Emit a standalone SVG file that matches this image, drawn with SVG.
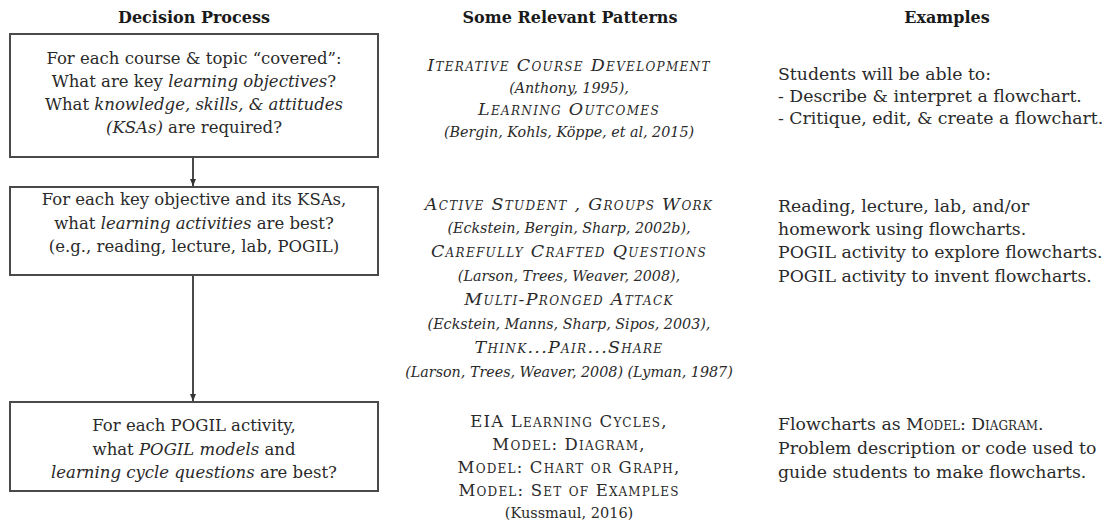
<svg xmlns="http://www.w3.org/2000/svg" width="1112" height="525" viewBox="0 0 1112 525">
<style>
text{font-family:"DejaVu Serif","Liberation Serif",serif;fill:#2a2a2a;}
.hd{font-weight:bold;font-size:16px;text-anchor:middle;fill:#1a1a1a;}
.bx{font-size:16.5px;text-anchor:middle;}
.box{fill:#fff;stroke:#4a4a4a;stroke-width:2;}
.pat{font-size:17.5px;letter-spacing:1.3px;font-style:italic;font-variant:small-caps;text-anchor:middle;}
.pat2{font-size:16.5px;letter-spacing:1.2px;font-variant:small-caps;text-anchor:middle;}
.cit{font-size:14.3px;font-style:italic;text-anchor:middle;}
.cit2{font-size:14.5px;text-anchor:middle;}
.ex{font-size:17.3px;}
.sc{font-variant:small-caps;}
.it{font-style:italic;}
.conn{stroke:#4a4a4a;stroke-width:2;fill:none;}
</style>
<defs>
<marker id="ah" markerUnits="userSpaceOnUse" markerWidth="8" markerHeight="8" refX="7" refY="4" orient="auto">
<path d="M0,1 L7,4 L0,7 Z" fill="#333"/>
</marker>
</defs>
<rect width="1112" height="525" fill="#fff"/>
<g id="headers">
<text class="hd" x="194" y="23">Decision Process</text>
<text class="hd" x="570" y="23">Some Relevant Patterns</text>
<text class="hd" x="947" y="23">Examples</text>
</g>
<g id="connectors">
<line class="conn" x1="193" y1="157" x2="193" y2="186" marker-end="url(#ah)"/>
<line class="conn" x1="193" y1="275" x2="193" y2="401" marker-end="url(#ah)"/>
</g>
<g id="node1">
<rect class="box" x="10" y="34" width="368" height="123"/>
<text class="bx" x="194" y="64">For each course &amp; topic “covered”:</text>
<text class="bx" x="194" y="87">What are key <tspan class="it">learning objectives</tspan>?</text>
<text class="bx" x="194" y="110">What <tspan class="it">knowledge, skills, &amp; attitudes</tspan></text>
<text class="bx" x="194" y="133"><tspan class="it">(KSAs)</tspan> are required?</text>
</g>
<g id="node2">
<rect class="box" x="10" y="187" width="368" height="88"/>
<text class="bx" x="194" y="205">For each key objective and its KSAs,</text>
<text class="bx" x="194" y="229">what <tspan class="it">learning activities</tspan> are best?</text>
<text class="bx" x="194" y="252">(e.g., reading, lecture, lab, POGIL)</text>
</g>
<g id="node3">
<rect class="box" x="10" y="402" width="368" height="89"/>
<text class="bx" x="194" y="431">For each POGIL activity,</text>
<text class="bx" x="194" y="455">what <tspan class="it">POGIL models</tspan> and</text>
<text class="bx" x="194" y="478"><tspan class="it">learning cycle questions</tspan> are best?</text>
</g>
<g id="patterns1">
<text class="pat" x="569" y="71">Iterative Course Development</text>
<text class="cit" x="569" y="93">(Anthony, 1995),</text>
<text class="pat" x="569" y="115">Learning Outcomes</text>
<text class="cit" x="569" y="137">(Bergin, Kohls, Köppe, et al, 2015)</text>
</g>
<g id="patterns2">
<text class="pat" x="569" y="210">Active Student , Groups Work</text>
<text class="cit" x="569" y="233">(Eckstein, Bergin, Sharp, 2002b),</text>
<text class="pat" x="569" y="257">Carefully Crafted Questions</text>
<text class="cit" x="569" y="281">(Larson, Trees, Weaver, 2008),</text>
<text class="pat" x="569" y="305">Multi-Pronged Attack</text>
<text class="cit" x="569" y="329">(Eckstein, Manns, Sharp, Sipos, 2003),</text>
<text class="pat" x="569" y="353">Think...Pair...Share</text>
<text class="cit" x="569" y="377">(Larson, Trees, Weaver, 2008) (Lyman, 1987)</text>
</g>
<g id="patterns3">
<text class="pat2" x="569" y="427">EIA Learning Cycles,</text>
<text class="pat2" x="569" y="450">Model: Diagram,</text>
<text class="pat2" x="569" y="473">Model: Chart or Graph,</text>
<text class="pat2" x="569" y="496">Model: Set of Examples</text>
<text class="cit2" x="569" y="518">(Kussmaul, 2016)</text>
</g>
<g id="examples1">
<text class="ex" x="778" y="80">Students will be able to:</text>
<text class="ex" x="778" y="102">- Describe &amp; interpret a flowchart.</text>
<text class="ex" x="778" y="124">- Critique, edit, &amp; create a flowchart.</text>
</g>
<g id="examples2">
<text class="ex" x="778" y="212">Reading, lecture, lab, and/or</text>
<text class="ex" x="778" y="235">homework using flowcharts.</text>
<text class="ex" x="778" y="258">POGIL activity to explore flowcharts.</text>
<text class="ex" x="778" y="282">POGIL activity to invent flowcharts.</text>
</g>
<g id="examples3">
<text class="ex" x="778" y="430">Flowcharts as <tspan class="sc">Model: Diagram</tspan>.</text>
<text class="ex" x="778" y="454">Problem description or code used to</text>
<text class="ex" x="778" y="478">guide students to make flowcharts.</text>
</g>
</svg>
